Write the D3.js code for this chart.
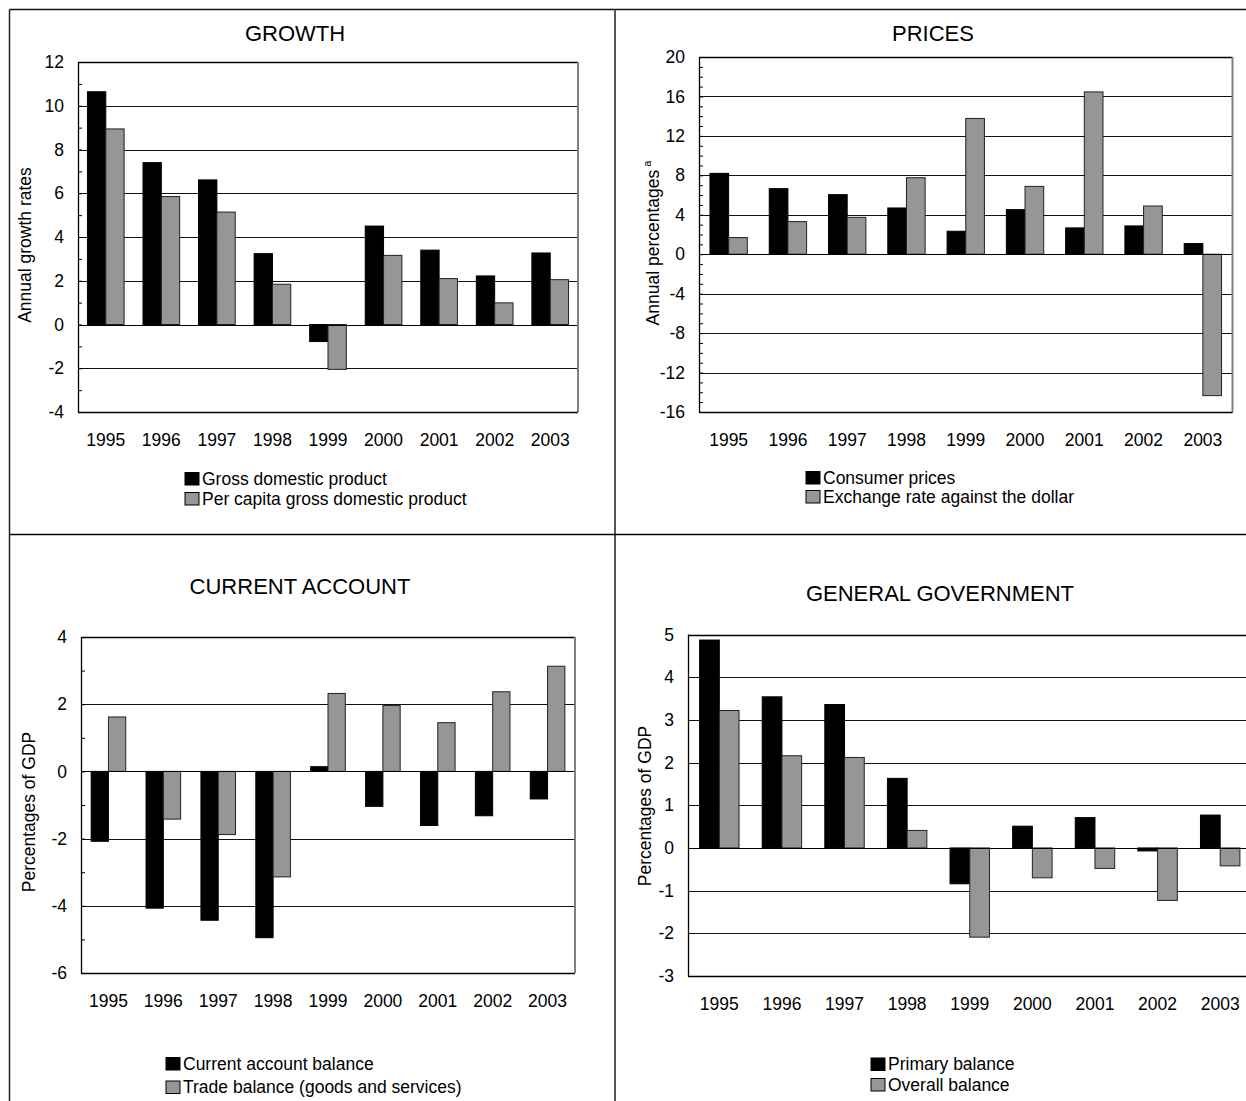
<!DOCTYPE html>
<html><head><meta charset="utf-8">
<script src="https://cdn.jsdelivr.net/npm/d3@7/dist/d3.min.js"></script>
<style>
body{margin:0;background:#fff}
svg{display:block}
text{font-family:"Liberation Sans",Arial,sans-serif;fill:#000}
</style>
</head><body>
<svg id="c" width="1246" height="1101"></svg>
<script>
// ---------- DATA ----------
const years = ["1995","1996","1997","1998","1999","2000","2001","2002","2003"];

const gdpGrowth          = [10.64, 7.40, 6.61, 3.24, -0.78, 4.50, 3.40, 2.22, 3.27];
const perCapitaGdpGrowth = [ 8.94, 5.85, 5.14, 1.84, -2.05, 3.16, 2.10, 0.99, 2.05];

const consumerPrices     = [8.20, 6.65, 6.04, 4.69, 2.33, 4.52, 2.67, 2.87, 1.08];
const exchangeRate       = [1.69, 3.31, 3.74, 7.76, 13.77, 6.88, 16.46, 4.89, -14.34];

const currentAccount     = [-2.08, -4.07, -4.43, -4.95, 0.14, -1.04, -1.61, -1.32, -0.82];
const tradeBalance       = [ 1.62, -1.42, -1.88, -3.14, 2.32, 1.96, 1.45, 2.37, 3.13];

const primaryBalance     = [4.87, 3.54, 3.36, 1.63, -0.84, 0.51, 0.71, -0.07, 0.77];
const overallBalance     = [3.22, 2.16, 2.12, 0.41, -2.09, -0.70, -0.48, -1.23, -0.42];

const growthTicks  = [-4, -2, 0, 2, 4, 6, 8, 10, 12];
const pricesTicks  = [-16, -12, -8, -4, 0, 4, 8, 12, 16, 20];
const currentTicks = [-6, -4, -2, 0, 2, 4];
const govTicks     = [-3, -2, -1, 0, 1, 2, 3, 4, 5];

const growthMinor  = d3.range(-4, 12.001, 1);
const pricesMinor  = d3.range(-16, 20.001, 1);
const currentMinor = d3.range(-6, 4.001, 1);

const growthLegend  = ["Gross domestic product", "Per capita gross domestic product"];
const pricesLegend  = ["Consumer prices", "Exchange rate against the dollar"];
const currentLegend = ["Current account balance", "Trade balance (goods and services)"];
const govLegend     = ["Primary balance", "Overall balance"];

// ---------- DRAW ----------
const svg = d3.select("#c");
const BLACK = "#000", GREY = "#969696";
const FS = "17.5px";

// outer frame / dividers
const frame = svg.append("g").attr("fill","none");
frame.append("line").attr("x1",9.5).attr("x2",1246).attr("y1",9.5).attr("y2",9.5).attr("stroke","#111").attr("stroke-width",1.5);
frame.append("line").attr("x1",9.5).attr("x2",9.5).attr("y1",9.5).attr("y2",1101).attr("stroke","#222").attr("stroke-width",1.5);
frame.append("line").attr("x1",615).attr("x2",615).attr("y1",9.5).attr("y2",1101).attr("stroke","#555").attr("stroke-width",2);
frame.append("line").attr("x1",9.5).attr("x2",1246).attr("y1",534.5).attr("y2",534.5).attr("stroke","#000").attr("stroke-width",1.5);

function panel(p){
  const g = svg.append("g");
  const x = d3.scaleBand().domain(years).range([p.left, p.right]);
  const y = d3.scaleLinear().domain(d3.extent(p.ticks)).range([p.bottom, p.top]);
  const bw = x.bandwidth() * p.frac;
  const off = (x.bandwidth() - 2*bw) / 2;
  const py = v => Math.round(y(v)) + 0.5;

  // gridlines (major, interior)
  g.append("g").selectAll("line").data(p.ticks).join("line")
    .attr("x1", p.left).attr("x2", p.right)
    .attr("y1", d => py(d)).attr("y2", d => py(d))
    .attr("stroke", "#111").attr("stroke-width", 1);

  // bars
  const series = [{vals:p.a, fill:BLACK, dx:0, stroke:"#000"}, {vals:p.b, fill:GREY, dx:1, stroke:"#222"}];
  series.forEach(s => {
    g.append("g").selectAll("rect").data(years).join("rect")
      .attr("x", (d) => x(d) + off + s.dx*bw)
      .attr("width", bw)
      .attr("y", (d,i) => y(Math.max(0, s.vals[i])))
      .attr("height", (d,i) => Math.abs(y(s.vals[i]) - y(0)))
      .attr("fill", s.fill).attr("stroke", s.stroke).attr("stroke-width", 1);
  });

  // zero line
  g.append("line").attr("x1",p.left).attr("x2",p.right).attr("y1",py(0)).attr("y2",py(0))
    .attr("stroke","#000").attr("stroke-width",1.2);

  // plot frame: top, right, bottom
  const tTop = p.ticks[p.ticks.length-1], tBot = p.ticks[0];
  g.append("line").attr("x1",p.left).attr("x2",p.right).attr("y1",py(tTop)).attr("y2",py(tTop))
    .attr("stroke","#000").attr("stroke-width",1.3);
  g.append("line").attr("x1",p.left).attr("x2",p.right).attr("y1",py(tBot)).attr("y2",py(tBot))
    .attr("stroke","#000").attr("stroke-width",1.3);
  g.append("line").attr("x1",p.right).attr("x2",p.right).attr("y1",y.range()[1]).attr("y2",y.range()[0])
    .attr("stroke","#808080").attr("stroke-width",2);

  // y axis labels (plain hyphen minus as in the original)
  const ya = g.append("g").attr("transform",`translate(${p.left},0)`)
    .call(d3.axisLeft(y).tickValues(p.ticks).tickSize(0).tickPadding(14).tickFormat(d => String(d)));
  ya.select(".domain").remove();
  ya.selectAll("text").style("font-size",FS).style("font-family",'"Liberation Sans",Arial,sans-serif');

  // minor ticks
  if (p.minor){
    const ma = g.append("g").attr("transform",`translate(${p.left},0)`)
      .call(d3.axisRight(y).tickValues(p.minor).tickSize(4).tickFormat(""));
    ma.select(".domain").remove();
    ma.selectAll("line").attr("stroke","#000");
  }
  // y axis line
  g.append("line").attr("x1",p.left+0.5).attr("x2",p.left+0.5).attr("y1",y.range()[1]).attr("y2",y.range()[0])
    .attr("stroke","#000").attr("stroke-width",1.3);

  // x axis labels
  const xa = g.append("g").attr("transform",`translate(0,${p.bottom})`)
    .call(d3.axisBottom(x).tickSize(0).tickPadding(p.xpad));
  xa.select(".domain").remove();
  xa.selectAll("text").style("font-size",FS).style("font-family",'"Liberation Sans",Arial,sans-serif');

  // title
  g.append("text").attr("x",p.titleX).attr("y",p.titleY).attr("text-anchor","middle")
    .attr("dominant-baseline","central").style("font-size","22px").text(p.title);

  // y title
  const yt = g.append("text").attr("transform",`translate(${p.ytX},${p.ytY}) rotate(-90)`)
    .attr("text-anchor","middle").attr("dominant-baseline","central").style("font-size",FS);
  yt.append("tspan").text(p.ytitle);
  if (p.sup) yt.append("tspan").attr("dy","-0.55em").style("font-size","11px").text(" " + p.sup);

  // legend
  const lg = g.append("g");
  p.legend.forEach((t,i) => {
    const yy = p.legY + i*p.legGap;
    lg.append("rect").attr("x",p.legX).attr("y",yy-6).attr("width",14).attr("height",12.5)
      .attr("fill", i===0 ? BLACK : GREY).attr("stroke","#000").attr("stroke-width",1);
    lg.append("text").attr("x",p.legX+17).attr("y",yy).attr("dominant-baseline","central")
      .style("font-size",FS).text(t);
  });
}

panel({title:"GROWTH", titleX:295, titleY:33, left:78, right:578, top:62, bottom:412,
  ticks:growthTicks, minor:growthMinor, a:gdpGrowth, b:perCapitaGdpGrowth, frac:0.33, xpad:22,
  ytitle:"Annual growth rates", ytX:25, ytY:245,
  legend:growthLegend, legX:185, legY:478.5, legGap:20});

panel({title:"PRICES", titleX:933, titleY:33, left:699, right:1232.5, top:57, bottom:412,
  ticks:pricesTicks, minor:pricesMinor, a:consumerPrices, b:exchangeRate, frac:0.315, xpad:22,
  ytitle:"Annual percentages", sup:"a", ytX:653, ytY:243,
  legend:pricesLegend, legX:806, legY:477.5, legGap:19});

panel({title:"CURRENT ACCOUNT", titleX:300, titleY:586, left:81, right:575, top:637, bottom:973,
  ticks:currentTicks, minor:currentMinor, a:currentAccount, b:tradeBalance, frac:0.315, xpad:22,
  ytitle:"Percentages of GDP", ytX:29, ytY:812,
  legend:currentLegend, legX:166, legY:1063.5, legGap:23.5});

panel({title:"GENERAL GOVERNMENT", titleX:940, titleY:593, left:688, right:1251.5, top:634.5, bottom:976,
  ticks:govTicks, minor:null, a:primaryBalance, b:overallBalance, frac:0.315, xpad:22,
  ytitle:"Percentages of GDP", ytX:645, ytY:806,
  legend:govLegend, legX:871, legY:1064, legGap:20.5});
</script>
</body></html>
